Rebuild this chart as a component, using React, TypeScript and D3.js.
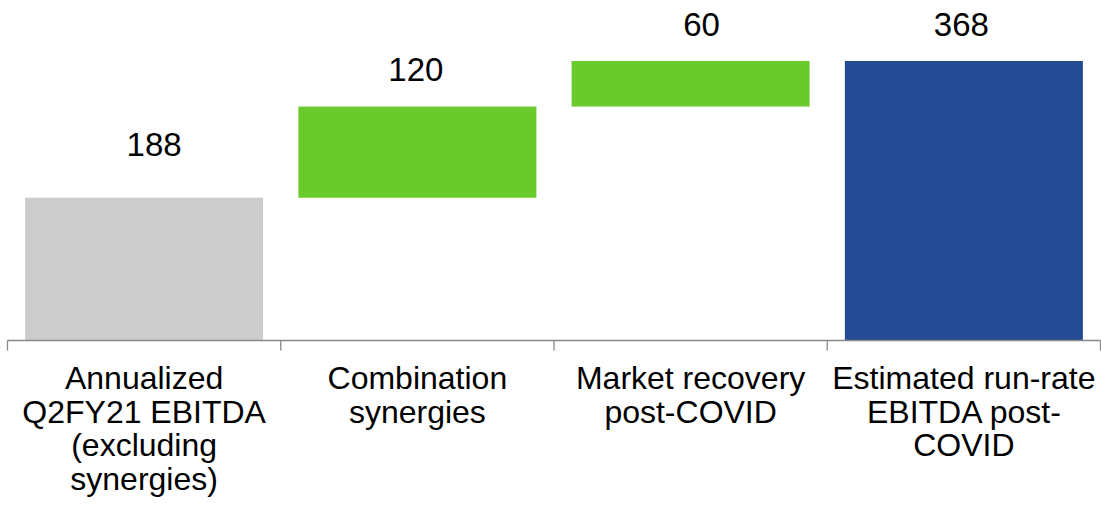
import React from "react";
import * as d3 from "d3";

const categories = [
  ["Annualized", "Q2FY21 EBITDA", "(excluding", "synergies)"],
  ["Combination", "synergies"],
  ["Market recovery", "post-COVID"],
  ["Estimated run-rate", "EBITDA post-", "COVID"],
];
const values = [188, 120, 60, 368];
const kinds = ["total", "delta", "delta", "total"];
const colors = ["#CCCCCC", "#6ACA2B", "#6ACA2B", "#234B93"];
const labelDx = [10, -1.5, 11, -2.5];
const labelGap = [42, 26, 25, 25];

export default function App() {
  const W = 1101;
  const H = 508;
  const x = d3
    .scaleBand<number>()
    .domain(values.map((_, i) => i))
    .range([7.5, 1100.5])
    .paddingInner(0.129)
    .paddingOuter(0.0645);
  const y = d3.scaleLinear().domain([0, 368]).range([340.5, 61]);

  let running = 0;
  const bars = values.map((v, i) => {
    let lo: number, hi: number;
    if (kinds[i] === "total") {
      lo = 0;
      hi = v;
      running = v;
    } else {
      lo = running;
      hi = running + v;
      running = hi;
    }
    return { i, v, lo, hi };
  });

  const step = x.step();
  const x0 = x.range()[0];
  const ticks = d3.range(values.length + 1).map((k) => x0 + k * step);
  const font = "Liberation Sans, Arial, sans-serif";

  return (
    <svg
      width={W}
      height={H}
      style={{ position: "absolute", left: 0, top: 0, background: "#fff" }}
    >
      {bars.map((b) => (
        <rect
          key={b.i}
          x={x(b.i)}
          y={y(b.hi)}
          width={x.bandwidth()}
          height={y(b.lo) - y(b.hi)}
          fill={colors[b.i]}
        />
      ))}
      <line x1={x0} x2={x.range()[1]} y1={y(0)} y2={y(0)} stroke="#898989" strokeWidth={1.3} />
      {ticks.map((t, k) => (
        <line key={k} x1={t} x2={t} y1={y(0)} y2={y(0) + 10} stroke="#898989" strokeWidth={1.3} />
      ))}
      {bars.map((b) => (
        <text
          key={"v" + b.i}
          x={(x(b.i) as number) + x.bandwidth() / 2 + labelDx[b.i]}
          y={y(b.hi) - labelGap[b.i]}
          textAnchor="middle"
          fontFamily={font}
          fontSize={33}
          fill="#000"
        >
          {b.v}
        </text>
      ))}
      {categories.map((lines, i) => (
        <text
          key={"c" + i}
          textAnchor="middle"
          fontFamily={font}
          fontSize={32}
          fill="#000"
        >
          {lines.map((l, j) => (
            <tspan key={j} x={(x0 + (i + 0.5) * step)} y={389 + j * 33.5}>
              {l}
            </tspan>
          ))}
        </text>
      ))}
    </svg>
  );
}
